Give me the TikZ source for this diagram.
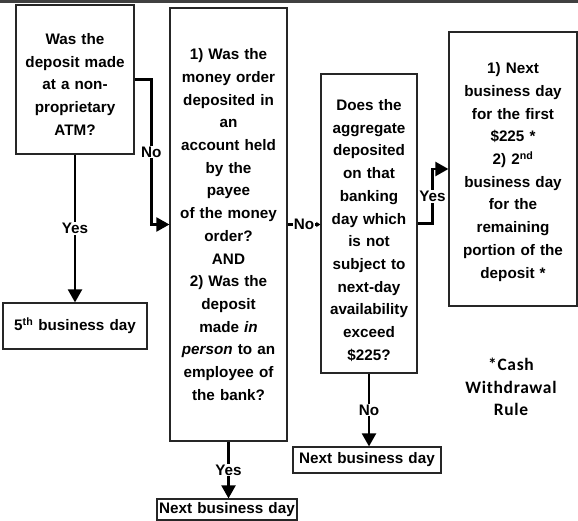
\documentclass[tikz,border=0pt]{standalone}
\usepackage{fontspec}
\setmainfont{Liberation Sans}
\newfontfamily\notefont{Carlito}[LetterSpace=4]
\usetikzlibrary{arrows.meta}

\newcommand{\padtop}[1]{\rule{0pt}{#1}}

\tikzset{
  box/.style={draw=black!85, line width=1.2bp, fill=white, inner sep=0pt, align=center},
  conn/.style={line width=2.2bp, -{Triangle[length=13bp,width=14bp]}},
  lbl/.style={fill=white, inner sep=1bp},
}

\begin{document}
\begin{tikzpicture}[x=1bp, y=1bp, yscale=-1, font=\bfseries\fontsize{15.3}{22.8}\selectfont]
    \useasboundingbox (0,0) rectangle (578,521);
    \fill [black!75] (0,0) rectangle (578,3);

    \node [box, text width=118bp, minimum height=149bp] (atm) at (75,79.5) {\padtop{21bp}Was the\\deposit made\\at a non-\\proprietary\\ATM?};
    \node [box, text width=117bp, minimum height=433bp] (order) at (228.5,224.5) {1) Was the\\money order\\deposited in\\an\\account held\\by the\\payee\\of the money\\order?\\AND\\2) Was the\\deposit\\made \textit{in}\\\textit{person} to an\\employee of\\the bank?};
    \node [box, text width=96bp, minimum height=299bp] (aggr) at (369,223.5) {\padtop{25bp}Does the\\aggregate\\deposited\\on that\\banking\\day which\\is not\\subject to\\next-day\\availability\\exceed\\\$225?};
    \node [box, text width=128bp, minimum height=274bp] (split) at (513,169) {\padtop{17bp}1) Next\\business day\\for the first\\\$225 *\\2) 2\textsuperscript{nd}\\business day\\for the\\remaining\\portion of the\\deposit *};
    \node [box, text width=144bp, minimum height=46bp] (fifth) at (75,326) {5\textsuperscript{th} business day};
    \node [box, text width=148bp, minimum height=26bp] (nextc) at (367,460) {Next business day};
    \node [box, text width=140bp, minimum height=21bp] (nextb) at (227,509.5) {Next business day};

    \node [align=center, font=\notefont\bfseries\fontsize{17.5}{22.5}\selectfont] (note) at (511,387) {*Cash\\Withdrawal\\Rule};

    % connectors
    \draw [conn] (atm.south) -- node [lbl] {Yes} (fifth.north);
    \draw [conn] (atm.east) -| node [lbl, pos=0.75] {No} ([xshift=-18bp]order.west) -- (order.west);
    \draw [line width=2.2bp, -{Triangle[length=4bp,width=5bp]}] (order.east) -- node [lbl, inner sep=0.5bp] {No} (order.east -| aggr.west);
    \draw [conn] (aggr.east) -| node [lbl, pos=0.75] {Yes} ([xshift=-16bp]split.west) -- (split.west);
    \draw [conn] (aggr.south) -- node [lbl] {No} (aggr.south |- nextc.north);
    \draw [conn] (order.south) -- node [lbl] {Yes} (order.south |- nextb.north);
\end{tikzpicture}
\end{document}
